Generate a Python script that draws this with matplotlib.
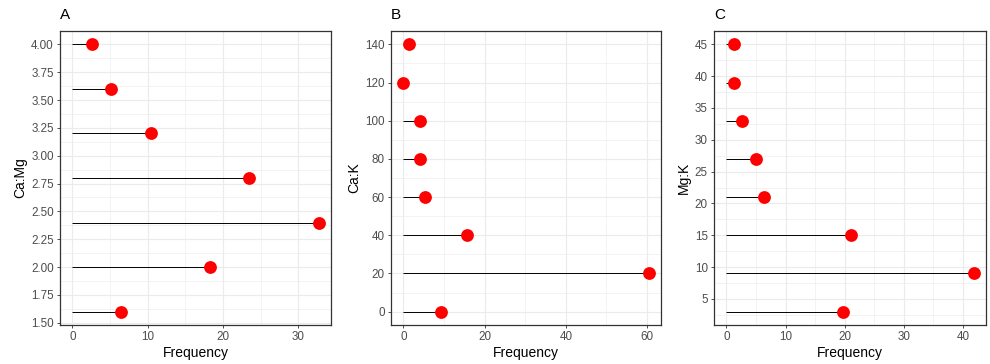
import matplotlib.pyplot as plt
from matplotlib.ticker import MultipleLocator, FormatStrFormatter

plt.rcParams['font.family'] = ['Liberation Sans', 'DejaVu Sans']

# panel A: Ca:Mg
camg_y = [1.6, 2.0, 2.4, 2.8, 3.2, 3.6, 4.0]
camg_freq = [6.5, 18.3, 32.7, 23.5, 10.4, 5.2, 2.6]

# panel B: Ca:K
cak_y = [0, 20, 40, 60, 80, 100, 120, 140]
cak_freq = [9.4, 60.4, 15.8, 5.3, 4.0, 4.0, 0.0, 1.4]

# panel C: Mg:K
mgk_y = [3, 9, 15, 21, 27, 33, 39, 45]
mgk_freq = [19.7, 41.8, 21.0, 6.4, 5.0, 2.6, 1.25, 1.25]

W, H = 990, 364
fig = plt.figure(figsize=(W / 100, H / 100), dpi=100)

panels = [
    ("A", "Ca:Mg", camg_y, camg_freq, (60, 331), 0.25, 10, "%.2f"),
    ("B", "Ca:K", cak_y, cak_freq, (391, 661), 20, 20, "%d"),
    ("C", "Mg:K", mgk_y, mgk_freq, (714, 986), 5, 10, "%d"),
]

top, bottom = 31, 325
for label, ylab, yv, xv, (x0, x1), ystep, xstep, yfmt in panels:
    ax = fig.add_axes([x0 / W, (H - bottom) / H, (x1 - x0) / W, (bottom - top) / H])
    ax.hlines(yv, 0, xv, color="black", linewidth=0.7, zorder=2)
    ax.scatter(xv, yv, s=85, color="red", zorder=3, linewidths=0)

    # ggplot style 5% expansion
    xmin, xmax = min(0, min(xv)), max(xv)
    dx = (xmax - xmin) * 0.05
    ax.set_xlim(xmin - dx, xmax + dx)
    ymin, ymax = min(yv), max(yv)
    dy = (ymax - ymin) * 0.05
    ax.set_ylim(ymin - dy, ymax + dy)

    ax.yaxis.set_major_locator(MultipleLocator(ystep))
    ax.yaxis.set_minor_locator(MultipleLocator(ystep / 2))
    ax.xaxis.set_major_locator(MultipleLocator(xstep))
    ax.xaxis.set_minor_locator(MultipleLocator(xstep / 2))
    ax.yaxis.set_major_formatter(FormatStrFormatter(yfmt))

    ax.grid(which="major", color="#EBEBEB", linewidth=0.8, zorder=0)
    ax.grid(which="minor", color="#EBEBEB", linewidth=0.4, zorder=0)
    ax.set_axisbelow(True)
    for sp in ax.spines.values():
        sp.set_color("#333333")
        sp.set_linewidth(0.9)
    ax.tick_params(which="major", length=2.5, width=0.6, color="#333333",
                   labelsize=8.4, labelcolor="#4D4D4D", pad=2)
    ax.tick_params(which="minor", length=0)

    ax.set_xlabel("Frequency", fontsize=10, color="black", labelpad=2)
    ax.set_ylabel(ylab, fontsize=10, color="black", labelpad=3)
    ax.text(0, 1.03, label, transform=ax.transAxes, fontsize=11,
            ha="left", va="bottom")

fig.savefig("out.png", dpi=100)
